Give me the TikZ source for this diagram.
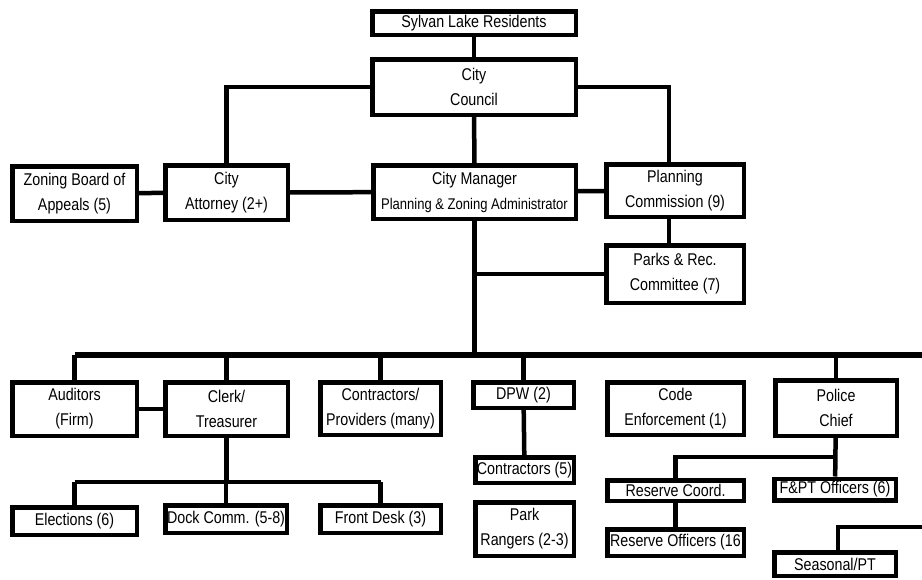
\documentclass[tikz,border=0pt]{standalone}
\usepackage{fontspec}
\setmainfont{Liberation Sans}[FakeStretch=0.84]
\usetikzlibrary{positioning}
\tikzset{>=latex}

\begin{document}
\begin{tikzpicture}[x=1pt,y=-1pt]
    \fontsize{17}{25}\selectfont
    \tikzset{
      office/.style n args={2}{draw, line width=4.5pt, fill=white, align=center, inner sep=0pt,
        minimum width={#1-4.5}, minimum height={#2-4.5}},
      link/.style={line width=4.5pt},
      bus/.style={line width=6pt},
    }
    \clip (0,0) rectangle (922,579);

    % Council level.
    \node[office={208}{28}] (res)     at (474,23)    {Sylvan Lake Residents};
    \node[office={208}{60}] (council) at (474,87)    {City\\Council};
    \node[office={129}{59}] (zba)     at (74.5,193.5) {Zoning Board of\\Appeals (5)};
    \node[office={127}{59}] (atty)    at (226.5,192.5) {City\\Attorney (2+)};
    \node[office={207}{58}] (mgr)     at (474.5,192) {City Manager\\\fontsize{15.5}{25}\selectfont Planning \& Zoning Administrator};
    \node[office={142}{57}] (plan)    at (675,190.5) {Planning\\Commission (9)};
    \node[office={142}{62}] (parks)   at (675,274)   {Parks \& Rec.\\Committee (7)};

    % Departments.
    \node[office={129}{58}] (aud)    at (74.5,409)  {Auditors\\(Firm)};
    \node[office={127}{58}] (clerk)  at (226.5,409) {Clerk/\\Treasurer};
    \node[office={125}{57}] (contr)  at (380.5,408.5) {Contractors/\\Providers (many)};
    \node[office={105}{30}] (dpw)    at (523.5,395) {DPW (2)};
    \node[office={141}{57}] (code)   at (675.5,408.5) {Code\\Enforcement (1)};
    \node[office={126}{60}] (police) at (836,408)   {Police\\Chief};

    % Staff.
    \node[office={129}{32}] (elect)   at (74.5,521)  {Elections (6)};
    \node[office={126}{32}] (dock)    at (226,519)   {Dock Comm. (5-8)};
    \node[office={125}{32}] (front)   at (380.5,519) {Front Desk (3)};
    \node[office={103}{30}] (contr5)  at (524.5,470) {Contractors (5)};
    \node[office={103}{58}] (rangers) at (524.5,529) {Park\\Rangers (2-3)};
    \node[office={141}{25}] (rcoord)  at (675.5,490.5) {Reserve Coord.};
    \node[office={126}{26}] (fpt)     at (835,489.5) {F\&PT Officers (6)};
    \node[office={141}{31}] (roff)    at (675.5,542.5) {Reserve Officers (16};
    \node[office={126}{28}] (seas)    at (835,564)   {Seasonal/PT};

    \coordinate (busL) at (75,355);  % main bus
    \coordinate (busR) at (922,355);
    \coordinate (cbus) at (75,482);  % clerk bus
    \coordinate (pbus) at (838,457); % police bus
    \coordinate (sbus) at (922,527); % seasonal feed

    % Upper links.
    \draw[link] (res) -- (council);
    \draw[link] (council.west) -| (atty.north);
    \draw[link] (council.east) -| ([xshift=-6pt]plan.north);
    \draw[link] (council) -- (mgr);
    \draw[link] (zba) -- (atty);
    \draw[link] (atty) -- (mgr);
    \draw[link] (mgr) -- (plan);
    \draw[link] ([xshift=-6pt]plan.south) -- ([xshift=-6pt]parks.north);
    \draw[link] (mgr.south) -- (mgr.south |- busL);
    \draw[link] (mgr.south |- parks.west) -- (parks.west);

    % Department bus.
    \draw[bus] (busL) -- (busR);
    \foreach \d in {aud,clerk,contr,dpw,police}
      \draw[link] (\d.north |- busL) -- (\d.north);
    \draw[link] (aud) -- (clerk);

    % Lower links.
    \draw[link] (clerk.south) -- (clerk.south |- cbus);
    \draw[link] (elect.north |- cbus) -- (front.north |- cbus);
    \foreach \d in {elect,dock,front}
      \draw[link] (\d.north |- cbus) -- (\d.north);
    \draw[link] (dpw) -- (contr5);
    \draw[link] (police) -- (fpt);
    \draw[link] (police.south |- pbus) -| (rcoord.north);
    \draw[link] (rcoord) -- (roff);
    \draw[link] (sbus) -| ([xshift=3pt]seas.north);
\end{tikzpicture}
\end{document}
